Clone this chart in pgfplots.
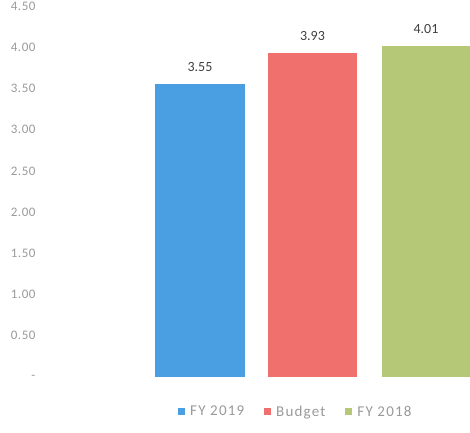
\documentclass[border=0pt]{standalone}
\usepackage{pgfplots}
\pgfplotsset{compat=1.18}
\usepackage{fontspec}
\setmainfont{Carlito}
\definecolor{cblue}{HTML}{4A9EE2}
\definecolor{cred}{HTML}{F0706E}
\definecolor{cgreen}{HTML}{B4C878}
\definecolor{tgray}{HTML}{9A9A9A}
\definecolor{lgray}{HTML}{404040}
\begin{document}
\begin{tikzpicture}
\path[use as bounding box] (-40pt,-55pt) rectangle (430pt,377pt);
\begin{axis}[
  at={(0pt,0pt)}, anchor=origin,
  scale only axis, width=430pt, height=371pt,
  xmin=40, xmax=470, ymin=0, ymax=4.5,
  axis x line=none,
  axis y line*=left,
  y axis line style={draw=none},
  ybar, bar shift=0pt,
  ytick={0,0.5,1,1.5,2,2.5,3,3.5,4,4.5},
  yticklabels={-,0.50,1.00,1.50,2.00,2.50,3.00,3.50,4.00,4.50},
  xtick=\empty,
  major tick length=0pt,
  tick style={draw=none},
  /pgf/number format/assume math mode=true,
  yticklabel style={font=\fontsize{13}{15}\selectfont\addfontfeature{LetterSpace=4}, text=tgray, anchor=east, xshift=-1pt},
  nodes near coords,
  nodes near coords style={font=\fontsize{14}{16}\selectfont, text=lgray, yshift=9pt, /pgf/number format/.cd, fixed, fixed zerofill, precision=2, assume math mode=true},
  legend style={at={(0.595,-0.094)}, anchor=center, draw=none, legend columns=-1, font=\fontsize{15}{17}\selectfont\addfontfeature{LetterSpace=8}, text=tgray,
    /tikz/every odd column/.append style={column sep=3pt},
    /tikz/every even column/.append style={column sep=18pt}},
  legend image code/.code={\fill[#1] (0pt,-3.5pt) rectangle (7pt,3.5pt);},
]
\addplot[fill=cblue, draw=none, bar width=90pt] coordinates {(200,3.55)};
\addplot[fill=cred, draw=none, bar width=89pt] coordinates {(312.5,3.93)};
\addplot[fill=cgreen, draw=none, bar width=88pt] coordinates {(426,4.01)};
\legend{FY 2019, Budget, FY 2018}
\end{axis}
\end{tikzpicture}
\end{document}
